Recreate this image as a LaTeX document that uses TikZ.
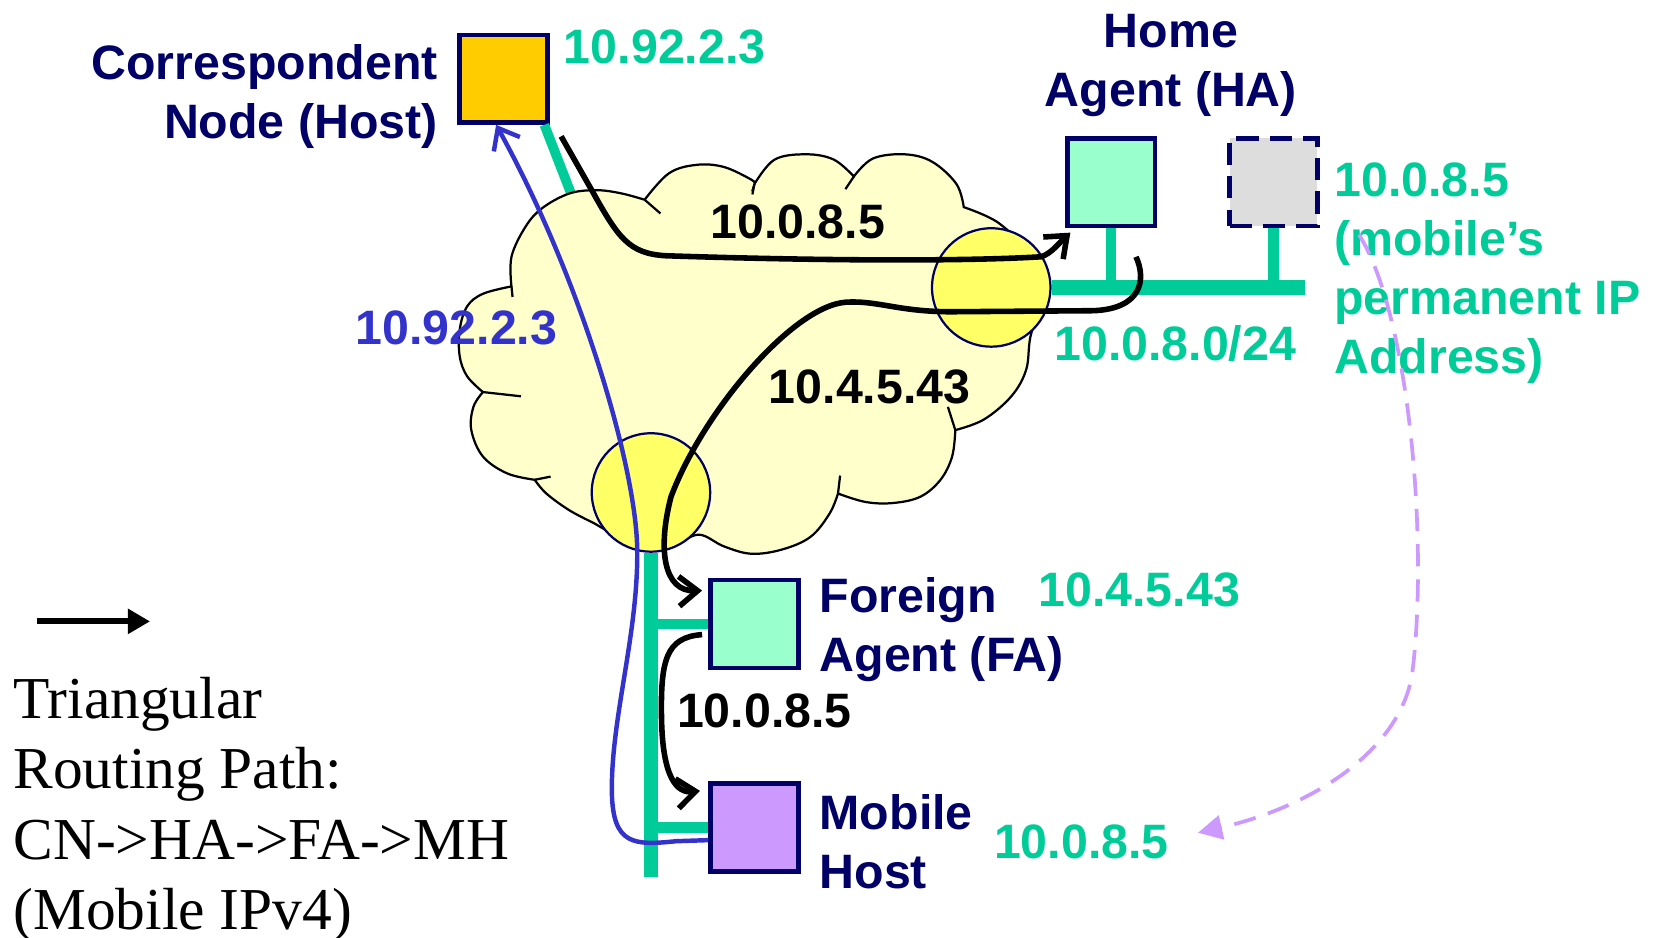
\documentclass[tikz,border=0pt]{standalone}
\usepackage{fontspec}
\setmainfont{Liberation Serif}
\setsansfont{Liberation Sans}
\usetikzlibrary{arrows.meta}

\definecolor{navy}{RGB}{0,0,102}
\definecolor{lanGreen}{RGB}{0,204,153}
\definecolor{cnOrange}{RGB}{255,204,0}
\definecolor{agentMint}{RGB}{153,255,204}
\definecolor{mhPurple}{RGB}{204,153,255}
\definecolor{permGrey}{RGB}{221,221,221}
\definecolor{cloudFill}{RGB}{255,255,204}
\definecolor{routerFill}{RGB}{255,255,102}
\definecolor{pathBlue}{RGB}{51,51,204}

\begin{document}
\begin{tikzpicture}[x=0.01cm, y=-0.01cm,
  host/.style={draw=navy, line width=1.2pt, minimum size=0.83cm, inner sep=0pt},
  router/.style={circle, draw=navy, line width=0.6pt, fill=routerFill, minimum size=1.12cm, inner sep=0pt},
  lan/.style={lanGreen, line width=4pt},
  tap/.style={lanGreen, line width=2.8pt},
  route/.style={line width=1.5pt, -{Straight Barb[length=5pt,width=8pt]}},
  lbl/.style={inner sep=0pt, font=\sffamily\bfseries\fontsize{13}{15.9}\selectfont},
  cloudarea/.style={draw=black, line width=0.6pt, fill=cloudFill}]
  \useasboundingbox (0,0) rectangle (1568,887);

  % Correspondent node and its link into the cloud
  \node[host, fill=cnOrange] (cn) at (476.5,74.5) {};
  \coordinate (cnlink) at (545,195);
  \draw[lanGreen, line width=2.6pt] ([shift={(-5,0)}]cn.south east) -- (cnlink);

  % Internet cloud
  \filldraw[cloudarea]
    plot[smooth, tension=.6] coordinates {(484,271) (484,243) (497,215) (513,197) (539,183) (565,180) (588,183) (610,189)}
    -- plot[smooth, tension=.6] coordinates {(610,189) (633,164) (659,156) (685,158) (711,170) (714,174)}
    -- plot[smooth, tension=.6] coordinates {(714,174) (733,151) (763,146) (789,151) (808,167)}
    -- plot[smooth, tension=.6] coordinates {(808,167) (826,150) (856,146) (882,153) (905,174) (912,196)}
    -- plot[smooth, tension=.6] coordinates {(912,196) (945,211) (972,240) (985,280) (975,319) (971,350) (957,375) (931,397) (904,407)}
    -- plot[smooth, tension=.6] coordinates {(904,407) (901,432) (890,454) (871,470) (845,476) (819,475) (793,467)}
    -- plot[smooth, tension=.6] coordinates {(793,467) (785,486) (767,508) (740,520) (711,524) (685,517) (662,506) (640,514) (616,516) (590,510) (562,495)}
    -- plot[smooth, tension=.6] coordinates {(562,495) (539,483) (517,467) (506,454)}
    -- plot[smooth, tension=.6] coordinates {(506,454) (480,448) (457,432) (446,407) (448,385) (457,371)}
    -- plot[smooth, tension=.6] coordinates {(457,371) (442,356) (435,337) (435,312) (442,290) (457,278) (484,271)}
    -- cycle;
  \foreach \ax/\ay/\bx/\by in {610/189/625/202, 714/174/712/184, 808/167/800/179, 904/407/897/385,
                               793/467/795/450, 506/454/521/451, 457/371/493/375, 484/271/485/281}
    \draw[line width=0.6pt] (\ax,\ay) -- (\bx,\by);

  % Agents, hosts and routers
  \node[host, fill=agentMint] (ha) at (1051.5,172.5) {};
  \node[host, fill=permGrey, dash pattern=on 6pt off 3pt] (perm) at (1205,172.5) {};
  \node[host, fill=agentMint] (fa) at (714,590.5) {};
  \node[host, fill=mhPurple] (mh) at (714,783) {};
  \node[router] (rha) at (938,272) {};
  \node[router] (rfa) at (616,466) {};

  % Home network 10.0.8.0/24
  \coordinate (busend) at (1235,272);
  \draw[lan] (rha.east) -- (busend);
  \draw[tap] (ha.south) -- (ha.south |- busend);
  \draw[tap] (perm.south) -- (perm.south |- busend);

  % Foreign network
  \coordinate (lanend) at (616,830);
  \draw[lan] (rfa.south) -- (lanend);
  \draw[tap] (fa.west) -- (fa.west -| lanend);
  \draw[tap] (mh.west) -- (mh.west -| lanend);

  % Triangular route CN -> HA -> FA -> MH
  \coordinate (cnout) at (531,129);
  \coordinate (haout) at (1075,243);
  \draw[route] (cnout) -- (560,180) .. controls (585,225) and (595,240) .. (630,242)
    .. controls (750,246) and (900,248) .. (985,243)
    .. controls (995,240) and (1003,229) .. ([shift={(5,4)}]ha.south west);
  \draw[route] (haout) .. controls (1085,265) and (1080,292) .. (1035,294) -- (900,295)
    .. controls (850,295) and (830,284) .. (800,286)
    .. controls (750,290) and (665,390) .. (635,470)
    .. controls (622,520) and (628,560) .. ([shift={(-6,12)}]fa.north west);
  \draw[route] ([shift={(-6,10)}]fa.west) .. controls (630,603) and (625,625) .. (626,680)
    .. controls (627,735) and (640,751) .. ([shift={(-8,9)}]mh.north west);

  % Direct reply MH -> CN
  \draw[pathBlue, line width=1.2pt, -{Straight Barb[length=5pt,width=8pt]}]
    ([shift={(0,12)}]mh.west) -- (640,796) .. controls (600,800) and (580,800) .. (579,750)
    .. controls (578,680) and (604,600) .. (603,520)
    .. controls (602,440) and (548,260) .. ([xshift=-2pt]cn.south);

  % Labels
  \node[lbl, text=navy, anchor=north east, align=right] (cnname) at (415,41) {Correspondent\\Node (Host)};
  \node[lbl, text=lanGreen, anchor=west] (cnip) at (533,44) {10.92.2.3};
  \node[lbl, text=navy, anchor=north, align=center] (haname) at (1108,13) {Home\\Agent (HA)};
  \node[lbl, text=lanGreen, anchor=north west, align=left] (permip) at (1262,153) {10.0.8.5\\(mobile’s\\permanent IP\\Address)};
  \node[lbl, text=lanGreen, anchor=west] (homenet) at (997,325) {10.0.8.0/24};
  \node[lbl] (hopha) at (755,210) {10.0.8.5};
  \node[lbl] (hopfa) at (823,366) {10.4.5.43};
  \node[lbl, text=pathBlue] (backip) at (432,310) {10.92.2.3};
  \node[lbl, text=navy, anchor=north west, align=left] (faname) at (775,546) {Foreign\\Agent (FA)};
  \node[lbl, text=lanGreen, anchor=west] (faip) at (982,558) {10.4.5.43};
  \node[lbl, anchor=west] (hopmh) at (640,673) {10.0.8.5};
  \node[lbl, text=navy, anchor=north west, align=left] (mhname) at (775,751) {Mobile\\Host};
  \node[lbl, text=lanGreen, anchor=west] (mhip) at (940,797) {10.0.8.5};

  % Permanent address moves with the mobile host
  \coordinate (permtail) at (1286,222);
  \draw[mhPurple, line width=1pt, dash pattern=on 6pt off 3.5pt, -{Triangle[length=6.5pt,width=6.5pt]}]
    (permtail) .. controls (1335,300) and (1352,520) .. (1336,640)
    .. controls (1322,715) and (1235,765) .. ([shift={(27,-9)}]mhip.east);

  % Legend
  \coordinate (legtail) at (35,588);
  \coordinate (leghead) at (142,588);
  \draw[line width=1.6pt, -{Triangle[length=6pt,width=6.5pt]}] (legtail) -- (leghead);
  \node[anchor=north west, inner sep=0pt, align=left, font=\fontsize{16}{18.95}\selectfont] (legend) at (12,640)
    {Triangular\\Routing Path:\\CN->HA->FA->MH\\(Mobile IPv4)};
\end{tikzpicture}
\end{document}
